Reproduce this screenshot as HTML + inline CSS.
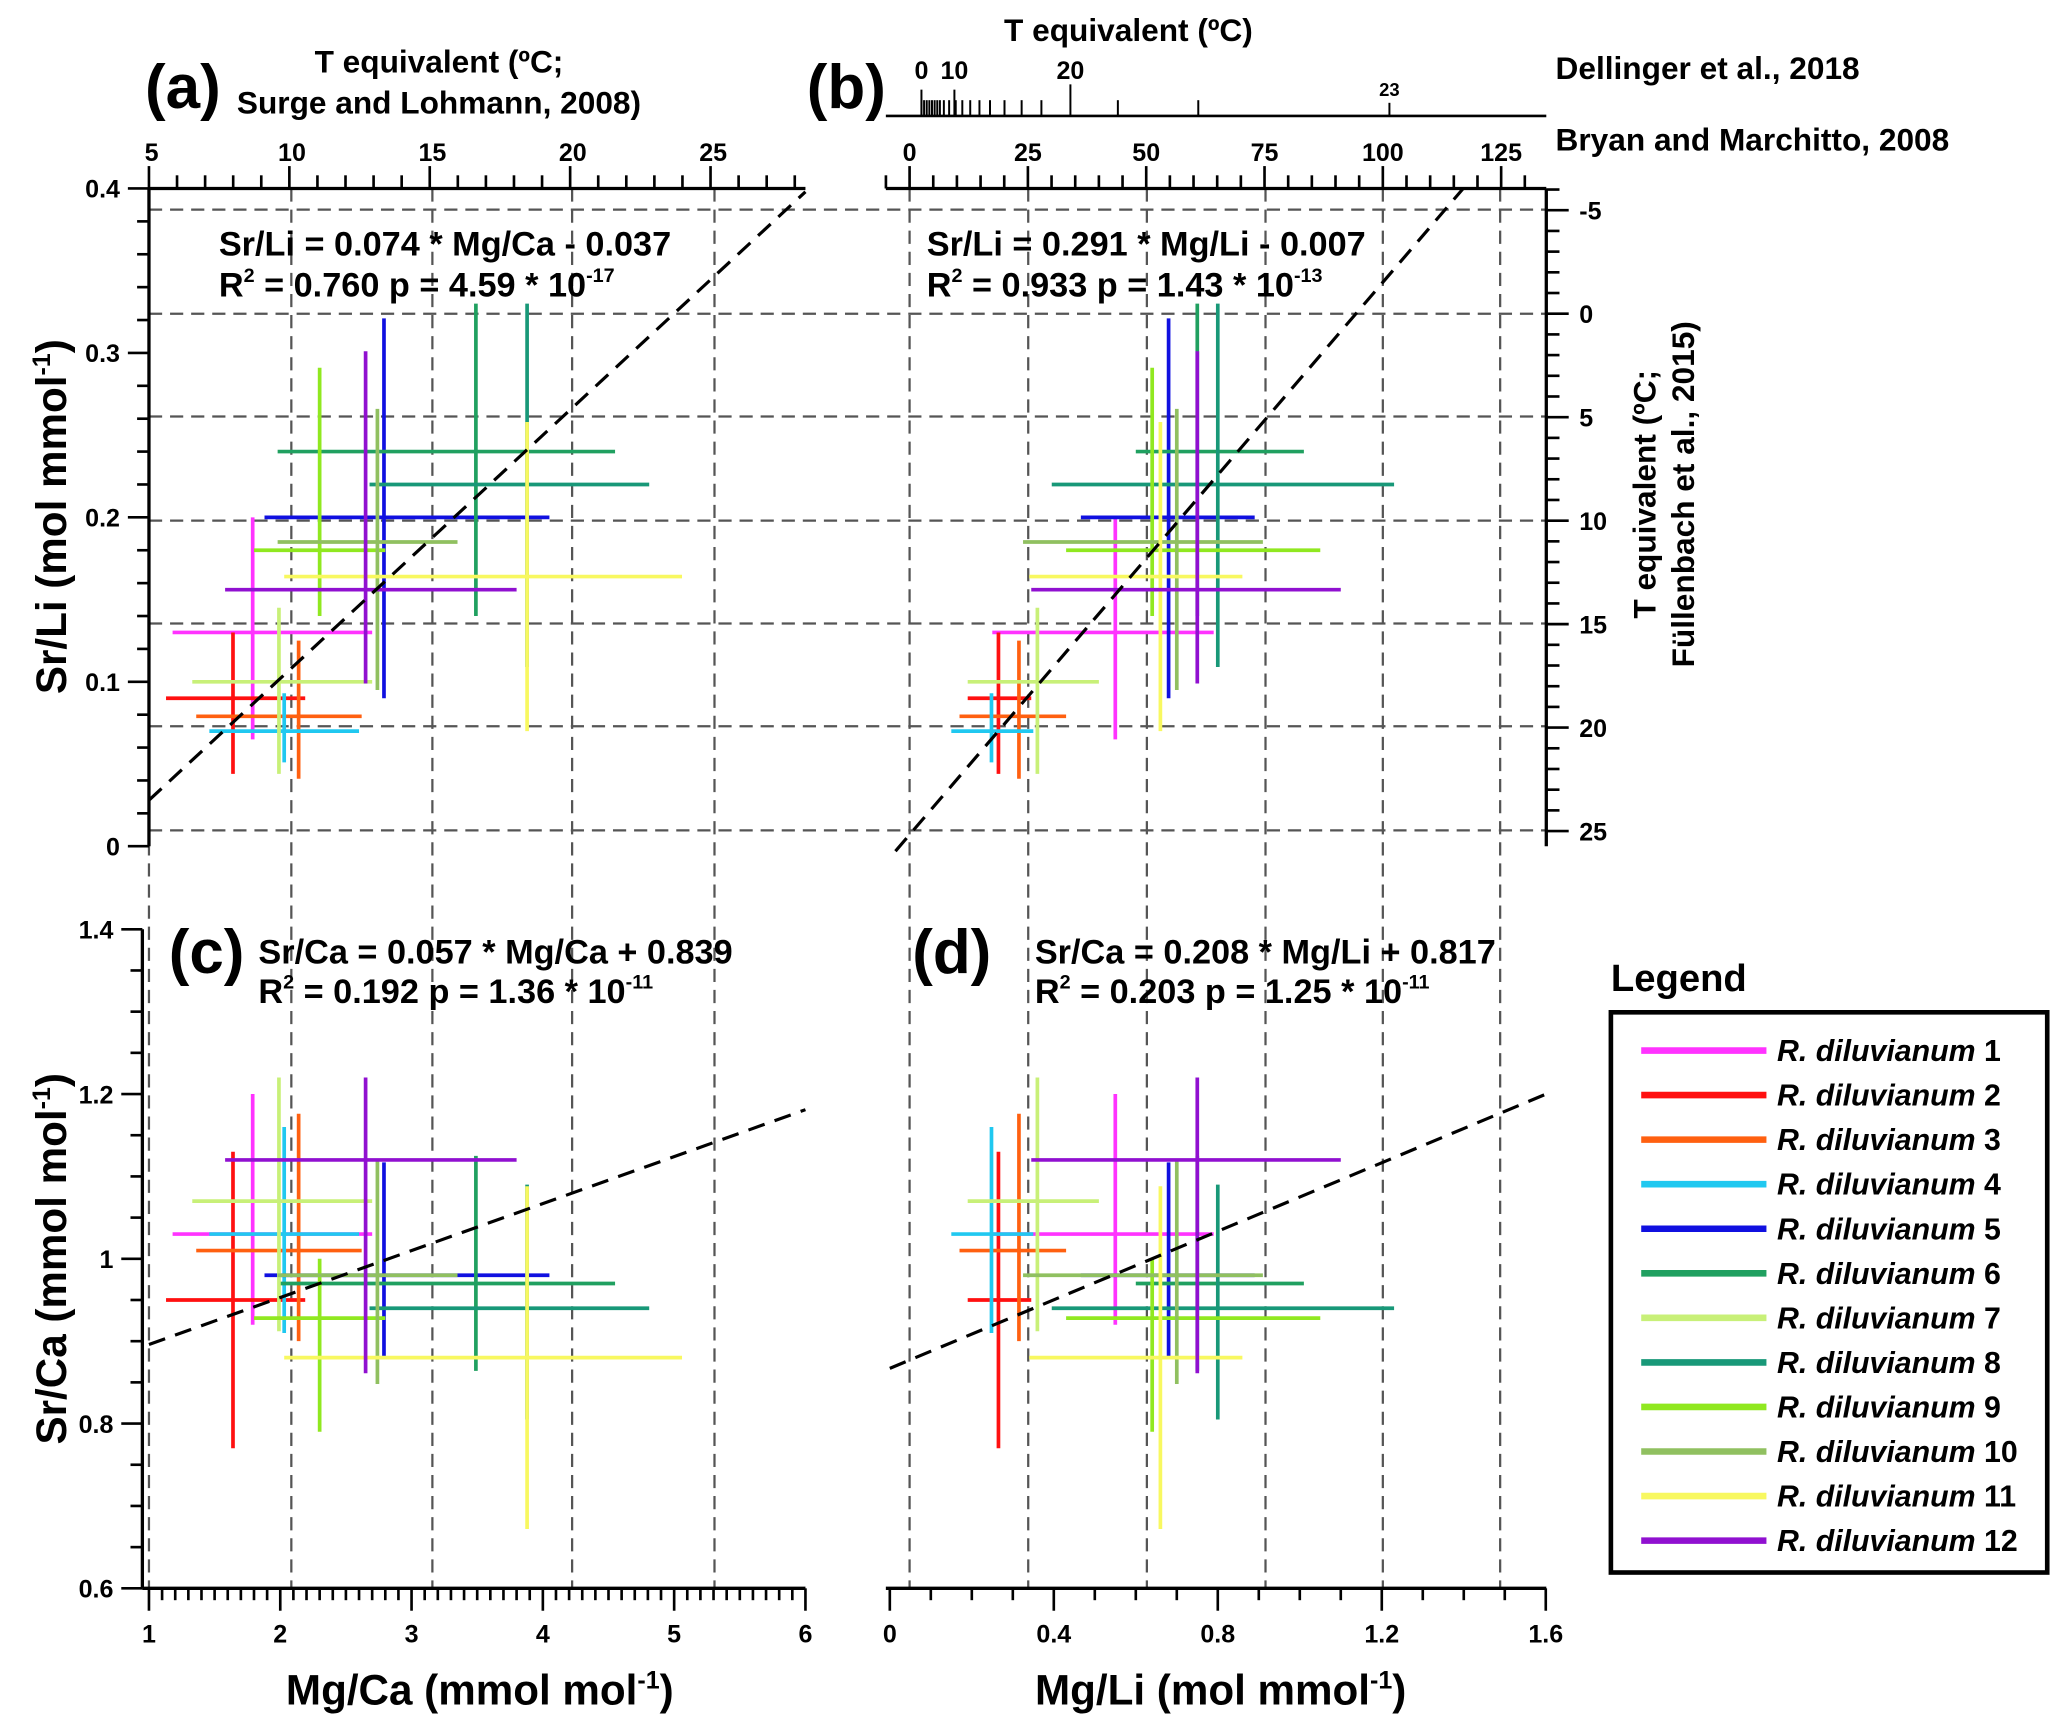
<!DOCTYPE html>
<html><head><meta charset="utf-8"><style>
html,body{margin:0;padding:0;background:#fff}
svg{display:block}
text{font-family:"Liberation Sans",sans-serif;font-weight:bold;fill:#000}
</style></head><body>
<svg id="chart" xmlns="http://www.w3.org/2000/svg" width="2067" height="1732" viewBox="0 0 1568 1314" preserveAspectRatio="none">
<g id="grid"></g>
<g id="axes"></g>
<g id="marks"></g>
<g id="labels">
<text x="110" y="82" font-size="47">(a)</text>
<text x="612" y="82" font-size="47">(b)</text>
<text x="128" y="738" font-size="47">(c)</text>
<text x="692" y="738" font-size="47">(d)</text>
<text x="333" y="55" font-size="24" text-anchor="middle">T equivalent (ºC;</text>
<text x="333" y="86" font-size="24" text-anchor="middle">Surge and Lohmann, 2008)</text>
<text x="856" y="31" font-size="24" text-anchor="middle">T equivalent (ºC)</text>
<text x="1180" y="60" font-size="24">Dellinger et al., 2018</text>
<text x="1180" y="114" font-size="24">Bryan and Marchitto, 2008</text>
<text x="166" y="194" font-size="26">Sr/Li = 0.074 * Mg/Ca - 0.037</text>
<text x="166" y="225" font-size="26">R<tspan dy="-11" font-size="15">2</tspan><tspan dy="11"> = 0.760  p = 4.59 * 10</tspan><tspan dy="-11" font-size="15">-17</tspan></text>
<text x="703" y="194" font-size="26">Sr/Li = 0.291 * Mg/Li - 0.007</text>
<text x="703" y="225" font-size="26">R<tspan dy="-11" font-size="15">2</tspan><tspan dy="11"> = 0.933  p = 1.43 * 10</tspan><tspan dy="-11" font-size="15">-13</tspan></text>
<text x="196" y="731" font-size="26">Sr/Ca = 0.057 * Mg/Ca + 0.839</text>
<text x="196" y="761" font-size="26">R<tspan dy="-11" font-size="15">2</tspan><tspan dy="11"> = 0.192  p = 1.36 * 10</tspan><tspan dy="-11" font-size="15">-11</tspan></text>
<text x="785" y="731" font-size="26">Sr/Ca = 0.208 * Mg/Li + 0.817</text>
<text x="785" y="761" font-size="26">R<tspan dy="-11" font-size="15">2</tspan><tspan dy="11"> = 0.203  p = 1.25 * 10</tspan><tspan dy="-11" font-size="15">-11</tspan></text>
<text transform="translate(50,392) rotate(-90)" font-size="32" text-anchor="middle">Sr/Li (mol mmol<tspan dy="-12" font-size="19">-1</tspan><tspan dy="12">)</tspan></text>
<text transform="translate(50,955) rotate(-90)" font-size="32" text-anchor="middle">Sr/Ca (mmol mol<tspan dy="-12" font-size="19">-1</tspan><tspan dy="12">)</tspan></text>
<text transform="translate(1256,375) rotate(-90)" font-size="24" text-anchor="middle">T equivalent (ºC;</text>
<text transform="translate(1285,375) rotate(-90)" font-size="24" text-anchor="middle">Füllenbach et al., 2015)</text>
<text x="364" y="1293" font-size="32" text-anchor="middle">Mg/Ca (mmol mol<tspan dy="-12" font-size="19">-1</tspan><tspan dy="12">)</tspan></text>
<text x="926" y="1293" font-size="32" text-anchor="middle">Mg/Li (mol mmol<tspan dy="-12" font-size="19">-1</tspan><tspan dy="12">)</tspan></text>
</g>
<g id="legend">
<text x="1222" y="752" font-size="29">Legend</text>
<rect x="1222" y="768" width="331" height="425" fill="none" stroke="#000" stroke-width="3.5"/>
</g>
</svg>
<script>
const names=['1','2','3','4','5','6','7','8','9','10','11','12'];
const colors=['#ff33ff','#ff1010','#ff6010','#20c8f0','#1010e0','#20a060','#c8f078','#189878','#90e820','#90c060','#f8f860','#9010d0'];
const mgca=[1.79,1.64,2.14,2.03,2.79,3.49,1.99,3.88,2.30,2.74,3.88,2.65];
const mgcaLo=[1.18,1.13,1.36,1.46,1.88,1.98,1.33,2.68,1.80,1.98,2.03,1.58];
const mgcaHi=[2.70,2.19,2.62,2.60,4.05,4.55,2.70,4.81,2.80,3.35,5.06,3.80];
const mgli=[0.55,0.265,0.315,0.248,0.68,0.75,0.36,0.80,0.64,0.70,0.66,0.75];
const mgliLo=[0.25,0.19,0.17,0.15,0.466,0.60,0.19,0.395,0.43,0.325,0.34,0.345];
const mgliHi=[0.79,0.345,0.43,0.35,0.89,1.01,0.51,1.23,1.05,0.91,0.86,1.10];
const srli=[0.130,0.090,0.079,0.070,0.200,0.240,0.100,0.220,0.180,0.185,0.164,0.156];
const srliLo=[0.065,0.044,0.041,0.051,0.090,0.140,0.044,0.109,0.140,0.095,0.070,0.099];
const srliHi=[0.200,0.130,0.125,0.093,0.321,0.330,0.145,0.330,0.291,0.266,0.258,0.301];
const srca=[1.03,0.95,1.01,1.03,0.98,0.97,1.07,0.94,0.928,0.98,0.88,1.12];
const srcaLo=[0.92,0.77,0.90,0.91,0.88,0.864,0.912,0.805,0.79,0.848,0.672,0.861];
const srcaHi=[1.20,1.13,1.176,1.16,1.117,1.125,1.22,1.09,1.0,1.12,1.088,1.22];
const fitSlope=[0.074,0.291,0.057,0.208];
const fitIntercept=[-0.046,-0.007,0.839,0.867];

const NS='http://www.w3.org/2000/svg';
function mk(parent,tag,attrs){const e=document.createElementNS(NS,tag);for(const k in attrs)e.setAttribute(k,attrs[k]);parent.appendChild(e);return e;}
const xMgCa=v=>113+(v-1)*99.6;
const xMgLi=v=>675+v*311;
const ySrLi=v=>642-v*1247.5;
const ySrCa=v=>1205-(v-0.6)*625;
const grid=document.getElementById('grid'),axes=document.getElementById('axes'),marks=document.getElementById('marks');
function line(p,x1,y1,x2,y2,st,w,dash){const l=mk(p,'line',{x1,y1,x2,y2,stroke:st,'stroke-width':w});if(dash)l.setAttribute('stroke-dasharray',dash);return l;}
function txt(p,x,y,s,size,anchor){const t=mk(p,'text',{x,y,'font-size':size,'text-anchor':anchor||'middle'});t.textContent=s;return t;}

[159,238,316,395,473,551,630].forEach(y=>{const l=line(grid,113,y,1173,y,'#555',1.7,'10,6');});
[113,221,328,434,542,690,780,870,960,1049,1138].forEach(x=>{const l=line(grid,x,143,x,1205,'#555',1.7,'10,6');});

const A='#000',TF=19;
line(axes,113,143,113,642,A,2.5);
for(let i=0;i<=20;i++){const v=i*0.02,y=ySrLi(v),maj=i%5===0;line(axes,113,y,maj?97:104,y,A,2);if(maj)txt(axes,91,y+7,(+v.toFixed(1)).toString(),TF,'end');}
line(axes,113,143,611,143,A,2.5);
for(let t=5;t<=28;t++){const x=113+(t-5)*21.3,maj=t%5===0;line(axes,x,143,x,maj?126:133,A,2);if(maj)txt(axes,x+2,122,String(t),TF);}
line(axes,672,143,1173,143,A,2.5);
for(let t=-5;t<=135;t+=5){const x=690+t*3.59;if(x<672||x>1173)continue;const maj=t%25===0;line(axes,x,143,x,maj?126:133,A,2);if(maj)txt(axes,x,122,String(t),TF);}
line(axes,672,88,1173,88,A,2);
[699,701,703,705,707,709,711,713,716,720,725,730,736,743,751,762,775,790,848,909].forEach(x=>line(axes,x,88,x,76,A,1.5));
line(axes,699,88,699,68,A,1.5);line(axes,724,88,724,68,A,1.5);line(axes,812,88,812,64,A,1.5);line(axes,1054,88,1054,78,A,1.5);
txt(axes,699,60,'0',TF);txt(axes,724,60,'10',TF);txt(axes,812,60,'20',TF);txt(axes,1054,73,'23',14);
line(axes,1173,143,1173,642,A,2.5);
for(let t=-6;t<=26;t++){const y=238+t*15.7;if(y<143||y>642)continue;const maj=t%5===0;line(axes,1173,y,maj?1190:1183,y,A,2);if(maj)txt(axes,1198,y+7,String(t),TF,'start');}
line(axes,108,705,108,1205,A,2.5);
for(let i=0;i<=16;i++){const v=0.6+i*0.05,y=ySrCa(v),maj=i%4===0;line(axes,108,y,maj?92:99,y,A,2);if(maj)txt(axes,86,y+7,(+v.toFixed(1)).toString(),TF,'end');}
line(axes,108,1205,611,1205,A,2.5);
for(let i=0;i<=50;i++){const v=1+i*0.1,x=xMgCa(v),maj=i%10===0;line(axes,x,1205,x,maj?1222:1214,A,2);if(maj)txt(axes,x,1246,String(Math.round(v)),TF);}
line(axes,672,1205,1173,1205,A,2.5);
for(let i=0;i<=16;i++){const v=i*0.1,x=xMgLi(v),maj=i%4===0;line(axes,x,1205,x,maj?1222:1214,A,2);if(maj)txt(axes,x,1246,i===0?'0':(+v.toFixed(1)).toString(),TF);}

function panel(xs,xlo,xhi,ys,ylo,yhi,fx,fy,tag){
  for(let i=0;i<names.length;i++){
    const c=colors[i];
    const h=line(marks,fx(xlo[i]),fy(ys[i]),fx(xhi[i]),fy(ys[i]),c,2.8);
    
    
    const v=line(marks,fx(xs[i]),fy(ylo[i]),fx(xs[i]),fy(yhi[i]),c,2.8);
    
    
  }
}
panel(mgca,mgcaLo,mgcaHi,srli,srliLo,srliHi,xMgCa,ySrLi,'a');
panel(mgli,mgliLo,mgliHi,srli,srliLo,srliHi,xMgLi,ySrLi,'b');
panel(mgca,mgcaLo,mgcaHi,srca,srcaLo,srcaHi,xMgCa,ySrCa,'c');
panel(mgli,mgliLo,mgliHi,srca,srcaLo,srcaHi,xMgLi,ySrCa,'d');

function fit(k,fx,fy,x0,x1,ymin,ymax,tag){
  const m=fitSlope[k],b=fitIntercept[k];
  let a0=x0,a1=x1;
  const inv=y=>(y-b)/m;
  a0=Math.max(a0,inv(ymin));a1=Math.min(a1,inv(ymax));
  const l=line(marks,fx(a0),fy(m*a0+b),fx(a1),fy(m*a1+b),'#000',2.4,'13,8');
  
  
}
fit(0,xMgCa,ySrLi,1,6,0,0.4,'a');
fit(1,xMgLi,ySrLi,0,1.6,-0.003,0.4,'b');
fit(2,xMgCa,ySrCa,1,6,0.6,1.4,'c');
fit(3,xMgLi,ySrCa,0,1.6,0.6,1.4,'d');

const lg=document.getElementById('legend');
for(let i=0;i<names.length;i++){
  const y=797+i*33.8;
  const l=line(lg,1245,y,1340,y,colors[i],5);
  
  
  const t=mk(lg,'text',{x:1348,y:y+8,'font-size':23});
  
  
  const s=mk(t,'tspan',{'font-style':'italic'});s.textContent='R. diluvianum';
  const n=mk(t,'tspan',{});n.textContent=' '+names[i];
}
</script>
</body></html>
